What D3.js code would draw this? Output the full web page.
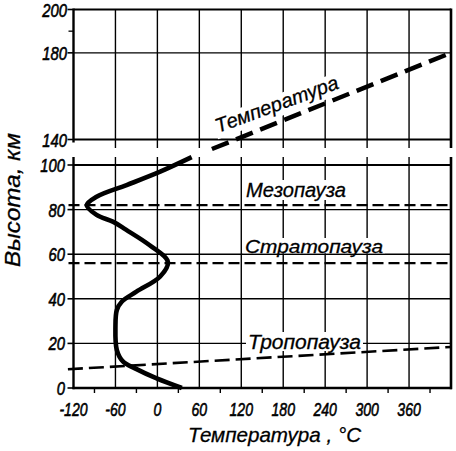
<!DOCTYPE html>
<html><head><meta charset="utf-8">
<script src="https://cdn.jsdelivr.net/npm/d3@7"></script>
<style>
html,body{margin:0;padding:0;background:#fff;}
svg{display:block;}
text{font-family:"Liberation Sans",Arial,sans-serif;font-style:italic;fill:#000;}
</style></head>
<body><svg id="c" width="456" height="451"></svg>
<script>
// ---- data ----
const xTicks = [-120,-60,0,60,120,180,240,300,360];
const xMinorTicks = [-90,-30,30,90,150,210,270,330,390];
const xGrid = [-60,0,60,120,180,240,300,360];
const yTicksLow = [0,20,40,60,80,100];
const yGridLow = [20,40,60,80];
const yTicksHigh = [140,180,200];
const yGridHigh = [180];
const yMinorHigh = [190];
// temperature profile (altitude km, temperature °C)
const profileAlt  = [0, 4.3, 8.8, 11.8, 17, 27.5, 35, 38.7, 43.2, 50, 56.6, 64, 71, 74.5, 77.6, 82, 85.8, 91, 97, 103.5];
const profileTemp = [35, -1, -32, -49, -58, -60, -58, -51, -30, 4, 15, -11, -45, -63, -87, -101, -87, -44, 4, 49];
// thermosphere (upper panel, dashed)
const thermoTemp = [78, 420];
const thermoAlt  = [135.6, 180];
// tropopause (sloping dashed)
const tropoTemp = [-128, 420];
const tropoAlt  = [8.4, 18.4];
const pauseNames = ["Мезопауза", "Стратопауза", "Тропопауза"];
const pauseAlt = [82, 56];
const topLabel = "Температура";
const xTitle = "Температура , °С";
const yTitle = "Высота, км";

// ---- scales ----
const svg = d3.select("#c");
const x = d3.scaleLinear().domain([-120, 420]).range([73.5, 451]);
const yB = d3.scaleLinear().domain([0, 100]).range([388, 165]);
const yT = d3.scaleLinear().domain([140, 200]).range([139.5, 9.5]);

const g = svg.append("g");
const line = (x1,y1,x2,y2,w)=>g.append("line").attr("x1",x1).attr("y1",y1).attr("x2",x2).attr("y2",y2)
  .attr("stroke","#000").attr("stroke-width",w).attr("stroke-linecap","butt");

// ---- top panel grid ----
xGrid.forEach(v=>line(x(v), yT(200), x(v), yT(140)+8.5, 1.4));
line(x(420), yT(200)-1, x(420), yT(140)+8.5, 2.6);
line(x(-120), yT(200)-1, x(-120), yT(140)+3, 2.4);
line(x(-120), yT(200), x(420), yT(200), 1.8);
yGridHigh.forEach(v=>line(x(-120), yT(v), x(420), yT(v), 1.4));
line(x(-120), yT(140), x(420), yT(140), 1.8);
yTicksHigh.forEach(v=>line(x(-120)-6, yT(v), x(-120), yT(v), 1.6));
yMinorHigh.forEach(v=>line(x(-120)-5, yT(v), x(-120), yT(v), 1.3));

// ---- bottom panel grid ----
xGrid.forEach(v=>line(x(v), yB(100)-8, x(v), yB(0), 1.4));
line(x(420), yB(100)-8, x(420), yB(0)+1.2, 2.6);
line(x(-120), yB(100)-8, x(-120), yB(0)+1.2, 2.4);
yGridLow.forEach(v=>line(x(-120), yB(v), x(420), yB(v), 1.4));
line(x(-120), yB(100), x(420), yB(100), 2);
line(x(-120)-1, yB(0), x(420)+1, yB(0), 2.6);
yTicksLow.forEach(v=>line(x(-120)-6, yB(v), x(-120), yB(v), 1.6));
xMinorTicks.forEach(v=>line(x(v), yB(0), x(v), yB(0)+5, 1.4));

// ---- tick labels ----
const tl = svg.append("g").attr("font-size", 19).attr("stroke","#000").attr("stroke-width",0.6);
xTicks.forEach(v=>{
  tl.append("text").attr("transform",`translate(${x(v)},${yB(0)+28}) scale(0.74,1)`)
    .attr("text-anchor","middle").text(v < 0 ? "-" + Math.abs(v) : v);
});
yTicksLow.forEach(v=>{
  tl.append("text").attr("transform",`translate(65,${yB(v)+7}) scale(0.78,1)`)
    .attr("text-anchor","end").text(v);
});
yTicksHigh.forEach(v=>{
  tl.append("text").attr("transform",`translate(67,${yT(v)+7.5}) scale(0.78,1)`)
    .attr("text-anchor","end").text(v);
});

// ---- label backgrounds and labels ----
const lab = svg.append("g");
function boxLabel(txt, x0, base, len, fs, top, bottom){
  lab.append("rect").attr("x",x0-2).attr("y",top).attr("width",len+4).attr("height",bottom-top).attr("fill","#fff");
  lab.append("text").attr("x",x0).attr("y",base).attr("font-size",fs)
    .attr("stroke","#000").attr("stroke-width",0.3)
    .attr("textLength",len).attr("lengthAdjust","spacingAndGlyphs").text(txt);
}
boxLabel(pauseNames[0], 246, 197, 100, 20, 180, 200);
boxLabel(pauseNames[1], 245, yB(60)-1, 138, 19, 238, yB(60)-1);
boxLabel(pauseNames[2], 248, 349, 113, 20, 332, 351);

// rotated upper label
const ang = -20.2;
const tg = lab.append("g").attr("transform",`translate(218,133) rotate(${ang})`);
tg.append("rect").attr("x",-2).attr("y",-16).attr("width",134).attr("height",22).attr("fill","#fff");
tg.append("text").attr("x",0).attr("y",0).attr("font-size",20)
  .attr("stroke","#000").attr("stroke-width",0.3)
  .attr("textLength",130).attr("lengthAdjust","spacingAndGlyphs").text(topLabel);

// ---- dashed level lines ----
const dl = svg.append("g");
pauseAlt.forEach(a=>{
  dl.append("line").attr("x1",x(-120)-5).attr("x2",x(420)).attr("y1",yB(a)).attr("y2",yB(a))
    .attr("stroke","#000").attr("stroke-width",2.2).attr("stroke-dasharray","11,5");
});
const tropo = tropoTemp.map((t,i)=>[x(t), yB(tropoAlt[i])]);
dl.append("path").attr("d", d3.line()(tropo)).attr("fill","none")
  .attr("stroke","#000").attr("stroke-width",2.6).attr("stroke-dasharray","15,6");

const thermo = thermoTemp.map((t,i)=>[x(t), yT(thermoAlt[i])]);
dl.append("path").attr("d", d3.line()(thermo)).attr("fill","none")
  .attr("stroke","#000").attr("stroke-width",4.5).attr("stroke-dasharray","18,8");

// ---- temperature profile ----
const prof = profileAlt.map((a,i)=>[x(profileTemp[i]), yB(a)]);
svg.append("path").attr("d", d3.line().curve(d3.curveCatmullRom.alpha(0.5))(prof))
  .attr("fill","none").attr("stroke","#000").attr("stroke-width",4.6)
  .attr("stroke-linecap","butt").attr("stroke-linejoin","round");

// ---- axis titles ----
svg.append("text").attr("transform","translate(20,200) rotate(-90)")
  .attr("text-anchor","middle").attr("font-size",22).attr("stroke","#000").attr("stroke-width",0.3)
  .attr("textLength",134).attr("lengthAdjust","spacingAndGlyphs").text(yTitle);
svg.append("text").attr("x",188).attr("y",442).attr("font-size",21).attr("stroke","#000").attr("stroke-width",0.3)
  .attr("textLength",173).attr("lengthAdjust","spacingAndGlyphs").text(xTitle);
</script></body></html>
